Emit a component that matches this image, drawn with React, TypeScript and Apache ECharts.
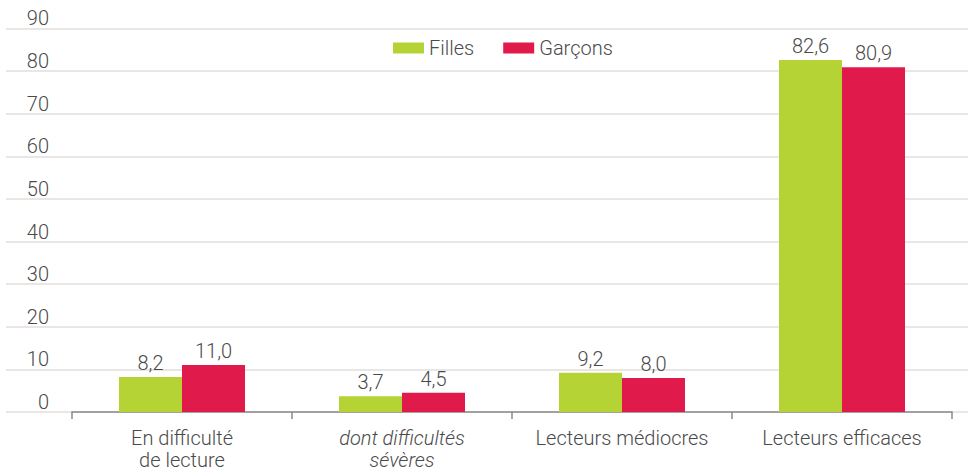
import React, { useEffect, useRef } from "react";
import * as echarts from "echarts";

const categories = ["En difficulté\nde lecture", "dont difficultés\nsévères", "Lecteurs médiocres", "Lecteurs efficaces"];
const italicCategories = [false, true, false, false];
const filles = [8.2, 3.7, 9.2, 82.6];
const garcons = [11.0, 4.5, 8.0, 80.9];
const yTicks = [0, 10, 20, 30, 40, 50, 60, 70, 80, 90];

const FONT = "Roboto";
const TEXT = "#4a4a4a";
const FS = 20;

export default function App() {
  const ref = useRef<HTMLDivElement>(null);
  useEffect(() => {
    if (!ref.current) return;
    const chart = echarts.init(ref.current, undefined, { renderer: "svg" });
    const fmt = (p: any) => Number(p.value).toFixed(1).replace(".", ",");
    chart.setOption({
      animation: false,
      textStyle: { fontFamily: FONT },
      legend: {
        top: 38,
        left: 393,
        padding: 0,
        itemWidth: 31,
        itemHeight: 11,
        itemGap: 29,
        icon: "rect",
        textStyle: { fontFamily: FONT, fontSize: FS, fontWeight: 300, color: TEXT },
        data: ["Filles", "Garçons"],
      },
      grid: [
        { left: 72, right: 16, top: 28.4, bottom: 59, containLabel: false, outerBoundsMode: "none" },
        { left: 6, right: 0, top: 28.4, bottom: 59, containLabel: false, outerBoundsMode: "none" },
      ],
      xAxis: [
        {
          type: "category",
          gridIndex: 0,
          data: categories.map((c, i) => ({
            value: c,
            textStyle: { fontStyle: italicCategories[i] ? "italic" : "normal" },
          })),
          axisLine: { lineStyle: { color: "#8a8a8a", width: 1.5 } },
          axisTick: { show: true, length: 7, lineStyle: { color: "#8a8a8a", width: 1.5 } },
          axisLabel: {
            fontFamily: FONT,
            fontSize: FS,
            fontWeight: 300,
            color: TEXT,
            margin: 15,
            lineHeight: 22,
            interval: 0,
          },
        },
        {
          type: "value",
          gridIndex: 1,
          show: false,
          min: 0,
          max: 1,
        },
      ],
      yAxis: [
        {
          type: "value",
          gridIndex: 0,
          min: 0,
          max: 90,
          interval: 10,
          axisLine: { show: false },
          axisTick: { show: false },
          splitLine: { show: false },
          axisLabel: {
            fontFamily: FONT,
            fontSize: FS,
            fontWeight: 300,
            color: TEXT,
            margin: 23,
            align: "right",
            verticalAlign: "bottom",
            customValues: yTicks,
          },
        },
        {
          type: "value",
          gridIndex: 1,
          min: 0,
          max: 90,
          interval: 10,
          axisLine: { show: false },
          axisTick: { show: false },
          axisLabel: { show: false },
          splitLine: { show: true, lineStyle: { color: "#e2deda", width: 1.5 } },
        },
      ],
      series: [
        {
          name: "Filles",
          type: "bar",
          xAxisIndex: 0,
          yAxisIndex: 0,
          data: filles,
          barWidth: 63,
          barGap: "0%",
          itemStyle: { color: "#b5d334" },
          label: {
            show: true,
            position: "top",
            distance: 4,
            formatter: fmt,
            fontFamily: FONT,
            fontSize: FS,
            fontWeight: 300,
            color: TEXT,
          },
          z: 3,
        },
        {
          name: "Garçons",
          type: "bar",
          xAxisIndex: 0,
          yAxisIndex: 0,
          data: garcons,
          barWidth: 63,
          barGap: "0%",
          itemStyle: { color: "#e01a4a" },
          label: {
            show: true,
            position: "top",
            distance: 4,
            formatter: fmt,
            fontFamily: FONT,
            fontSize: FS,
            fontWeight: 300,
            color: TEXT,
          },
          z: 3,
        },
      ],
    });
    return () => chart.dispose();
  }, []);
  return <div ref={ref} style={{ width: 968, height: 471, position: "absolute", left: 0, top: 0 }} />;
}
